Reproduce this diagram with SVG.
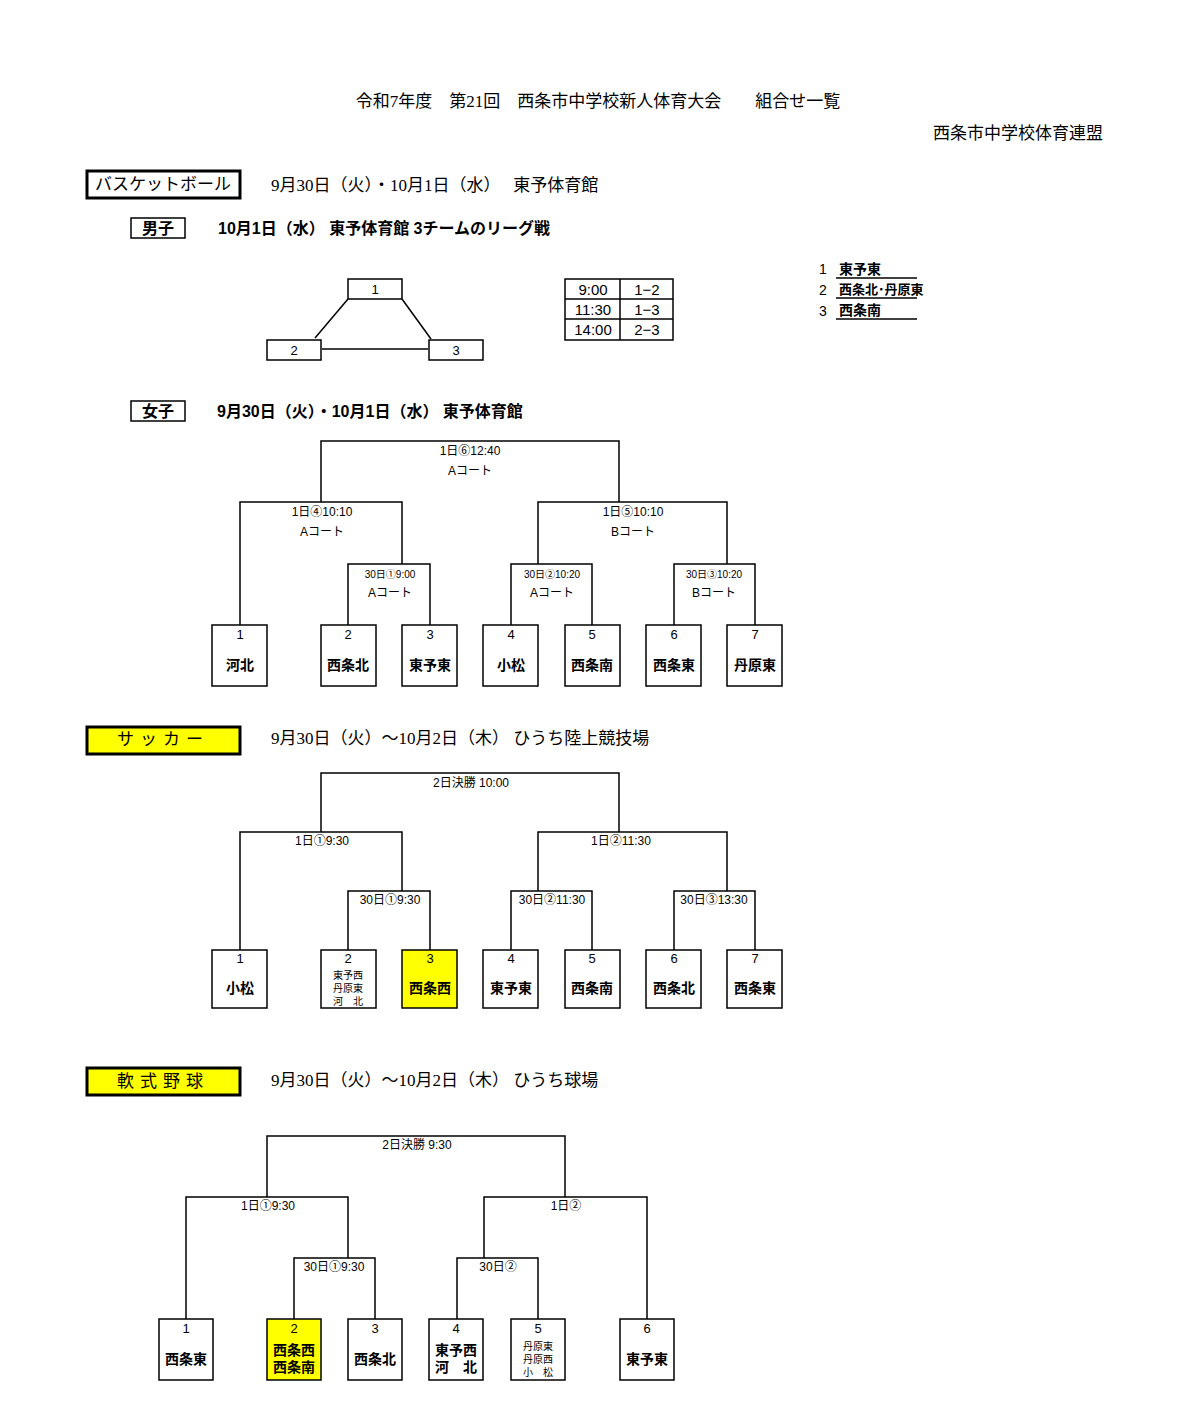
<svg xmlns="http://www.w3.org/2000/svg" width="1200" height="1420" viewBox="0 0 1200 1420">
<style>
text{font-family:"Liberation Sans","Noto Sans CJK JP",sans-serif;fill:#000}
.t{font-size:17px;font-family:"Liberation Serif","Noto Sans CJK JP",serif}
.h{font-size:16px;font-weight:bold}
.s{font-size:12px;text-anchor:middle}
.xs{font-size:10px;text-anchor:middle}
.n{font-size:13px;text-anchor:middle}
.nm{font-size:14px;font-weight:bold;text-anchor:middle}
.ln{stroke:#000;stroke-width:1.5;fill:none}
.bx{fill:#fff;stroke:#000;stroke-width:1.5}
.yb{fill:#ffff00;stroke:#000;stroke-width:1.5}
.sb{fill:#fff;stroke:#000;stroke-width:3}
.sy{fill:#ffff00;stroke:#000;stroke-width:3}
</style>
<rect width="1200" height="1420" fill="#fff"/>
<text class="t" x="598" y="107" text-anchor="middle" font-size="18">令和7年度　第21回　西条市中学校新人体育大会　　組合せ一覧</text>
<text class="t" x="1103" y="139" text-anchor="end" font-size="18">西条市中学校体育連盟</text>

<g id="basket-head">
<rect class="sb" x="87" y="171" width="153" height="27"/>
<text class="t" x="163" y="190" text-anchor="middle">バスケットボール</text>
<text class="t" x="271" y="191">9月30日（火）・10月1日（水）　 東予体育館</text>
</g>
<g id="boys-head">
<rect class="bx" x="131" y="218" width="54" height="20"/>
<text class="h" x="158" y="234" text-anchor="middle">男子</text>
<text class="h" x="218" y="234">10月1日（水） 東予体育館  3チームのリーグ戦</text>
</g>
<g id="league-connectors">
<line class="ln" x1="348" y1="299" x2="315" y2="338"/>
<line class="ln" x1="402" y1="299" x2="431" y2="339"/>
<line class="ln" x1="322" y1="349" x2="428" y2="349"/>
</g>
<g id="league-1"><rect class="bx" x="348" y="279" width="54" height="20"/><text class="n" x="375" y="294">1</text></g>
<g id="league-2"><rect class="bx" x="267" y="340" width="54" height="20"/><text class="n" x="294" y="355">2</text></g>
<g id="league-3"><rect class="bx" x="429" y="340" width="54" height="20"/><text class="n" x="456" y="355">3</text></g>
<g id="schedule">
<rect class="bx" x="565" y="279" width="108" height="61"/>
<line class="ln" x1="565" y1="299" x2="673" y2="299"/>
<line class="ln" x1="565" y1="319" x2="673" y2="319"/>
<line class="ln" x1="620" y1="279" x2="620" y2="340"/>
<g font-size="15" text-anchor="middle">
<text x="593" y="295">9:00</text><text x="647" y="295">1−2</text>
<text x="593" y="315">11:30</text><text x="647" y="315">1−3</text>
<text x="593" y="335">14:00</text><text x="647" y="335">2−3</text>
</g>
</g>
<g id="legend" font-size="14">
<text x="819" y="274">1</text><text x="839" y="274" font-weight="bold">東予東</text>
<text x="819" y="295">2</text><text x="839" y="294" font-weight="bold" font-size="13">西条北･丹原東</text>
<text x="819" y="316">3</text><text x="839" y="315" font-weight="bold">西条南</text>
<line class="ln" x1="836" y1="278" x2="917" y2="278"/>
<line class="ln" x1="836" y1="298" x2="917" y2="298"/>
<line class="ln" x1="836" y1="319" x2="917" y2="319"/>
</g>

<g id="girls-head">
<rect class="bx" x="131" y="401" width="54" height="20"/>
<text class="h" x="158" y="417" text-anchor="middle">女子</text>
<text class="h" x="217" y="417">9月30日（火）・10月1日（水） 東予体育館</text>
</g>
<g id="girls-connectors" class="ln">
<path class="ln" d="M321 502V441H619V502"/>
<path class="ln" d="M240 625V502H402V564"/>
<path class="ln" d="M538 564V502H727V564"/>
<path class="ln" d="M348 625V564H430V625"/>
<path class="ln" d="M511 625V564H592V625"/>
<path class="ln" d="M674 625V564H755V625"/>
</g>
<g id="girls-labels">
<text class="s" x="470" y="455">1日⑥12:40</text><text class="s" x="470" y="475">Aコート</text>
<text class="s" x="322" y="516">1日④10:10</text><text class="s" x="322" y="536">Aコート</text>
<text class="s" x="633" y="516">1日⑤10:10</text><text class="s" x="633" y="536">Bコート</text>
<text class="xs" x="390" y="578">30日①9:00</text><text class="s" x="390" y="597">Aコート</text>
<text class="xs" x="552" y="578">30日②10:20</text><text class="s" x="552" y="597">Aコート</text>
<text class="xs" x="714" y="578">30日③10:20</text><text class="s" x="714" y="597">Bコート</text>
</g>
<g id="g1"><rect class="bx" x="212" y="625" width="55" height="61"/><text class="n" x="240" y="639">1</text><text class="nm" x="240" y="670">河北</text></g>
<g id="g2"><rect class="bx" x="321" y="625" width="55" height="61"/><text class="n" x="348" y="639">2</text><text class="nm" x="348" y="670">西条北</text></g>
<g id="g3"><rect class="bx" x="402" y="625" width="55" height="61"/><text class="n" x="430" y="639">3</text><text class="nm" x="430" y="670">東予東</text></g>
<g id="g4"><rect class="bx" x="483" y="625" width="55" height="61"/><text class="n" x="511" y="639">4</text><text class="nm" x="511" y="670">小松</text></g>
<g id="g5"><rect class="bx" x="565" y="625" width="55" height="61"/><text class="n" x="592" y="639">5</text><text class="nm" x="592" y="670">西条南</text></g>
<g id="g6"><rect class="bx" x="646" y="625" width="55" height="61"/><text class="n" x="674" y="639">6</text><text class="nm" x="674" y="670">西条東</text></g>
<g id="g7"><rect class="bx" x="727" y="625" width="55" height="61"/><text class="n" x="755" y="639">7</text><text class="nm" x="755" y="670">丹原東</text></g>

<g id="soccer-head">
<rect class="sy" x="87" y="727" width="153" height="27"/>
<text class="t" x="163" y="745" text-anchor="middle" letter-spacing="6">サッカー</text>
<text class="t" x="271" y="744">9月30日（火）～10月2日（木）  ひうち陸上競技場</text>
</g>
<g id="soccer-connectors">
<path class="ln" d="M321 832V773H619V832"/>
<path class="ln" d="M240 950V832H402V891"/>
<path class="ln" d="M538 891V832H727V891"/>
<path class="ln" d="M348 950V891H430V950"/>
<path class="ln" d="M511 950V891H592V950"/>
<path class="ln" d="M674 950V891H755V950"/>
</g>
<g id="soccer-labels">
<text class="s" x="471" y="787">2日決勝  10:00</text>
<text class="s" x="322" y="845">1日①9:30</text>
<text class="s" x="621" y="845">1日②11:30</text>
<text class="s" x="390" y="904">30日①9:30</text>
<text class="s" x="552" y="904">30日②11:30</text>
<text class="s" x="714" y="904">30日③13:30</text>
</g>
<g id="s1"><rect class="bx" x="212" y="950" width="55" height="58"/><text class="n" x="240" y="963">1</text><text class="nm" x="240" y="993">小松</text></g>
<g id="s2"><rect class="bx" x="321" y="950" width="55" height="58"/><text class="n" x="348" y="963">2</text><text class="xs" x="348" y="979">東予西</text><text class="xs" x="348" y="992">丹原東</text><text class="xs" x="348" y="1005">河　北</text></g>
<g id="s3"><rect class="yb" x="402" y="950" width="55" height="58"/><text class="n" x="430" y="963">3</text><text class="nm" x="430" y="993">西条西</text></g>
<g id="s4"><rect class="bx" x="483" y="950" width="55" height="58"/><text class="n" x="511" y="963">4</text><text class="nm" x="511" y="993">東予東</text></g>
<g id="s5"><rect class="bx" x="565" y="950" width="55" height="58"/><text class="n" x="592" y="963">5</text><text class="nm" x="592" y="993" font-weight="normal">西条南</text></g>
<g id="s6"><rect class="bx" x="646" y="950" width="55" height="58"/><text class="n" x="674" y="963">6</text><text class="nm" x="674" y="993">西条北</text></g>
<g id="s7"><rect class="bx" x="727" y="950" width="55" height="58"/><text class="n" x="755" y="963">7</text><text class="nm" x="755" y="993">西条東</text></g>

<g id="baseball-head">
<rect class="sy" x="87" y="1068" width="153" height="27"/>
<text class="t" x="163" y="1087" text-anchor="middle" letter-spacing="6">軟式野球</text>
<text class="t" x="271" y="1086">9月30日（火）～10月2日（木）  ひうち球場</text>
</g>
<g id="baseball-connectors">
<path class="ln" d="M267 1197V1136H565V1197"/>
<path class="ln" d="M186 1319V1197H348V1258"/>
<path class="ln" d="M484 1258V1197H647V1319"/>
<path class="ln" d="M294 1319V1258H375V1319"/>
<path class="ln" d="M457 1319V1258H538V1319"/>
</g>
<g id="baseball-labels">
<text class="s" x="417" y="1149">2日決勝  9:30</text>
<text class="s" x="268" y="1210">1日①9:30</text>
<text class="s" x="566" y="1210">1日②</text>
<text class="s" x="334" y="1271">30日①9:30</text>
<text class="s" x="498" y="1271">30日②</text>
</g>
<g id="b1"><rect class="bx" x="159" y="1319" width="54" height="61"/><text class="n" x="186" y="1333">1</text><text class="nm" x="186" y="1364" font-weight="normal">西条東</text></g>
<g id="b2"><rect class="yb" x="267" y="1319" width="54" height="61"/><text class="n" x="294" y="1333">2</text><text class="nm" x="294" y="1355" font-weight="normal">西条西</text><text class="nm" x="294" y="1372" font-weight="normal">西条南</text></g>
<g id="b3"><rect class="bx" x="348" y="1319" width="54" height="61"/><text class="n" x="375" y="1333">3</text><text class="nm" x="375" y="1364" font-weight="normal">西条北</text></g>
<g id="b4"><rect class="bx" x="429" y="1319" width="54" height="61"/><text class="n" x="456" y="1333">4</text><text class="nm" x="456" y="1355">東予西</text><text class="nm" x="456" y="1372">河　北</text></g>
<g id="b5"><rect class="bx" x="511" y="1319" width="54" height="61"/><text class="n" x="538" y="1333">5</text><text class="xs" x="538" y="1350">丹原東</text><text class="xs" x="538" y="1363">丹原西</text><text class="xs" x="538" y="1376">小　松</text></g>
<g id="b6"><rect class="bx" x="620" y="1319" width="54" height="61"/><text class="n" x="647" y="1333">6</text><text class="nm" x="647" y="1364">東予東</text></g>
</svg>
